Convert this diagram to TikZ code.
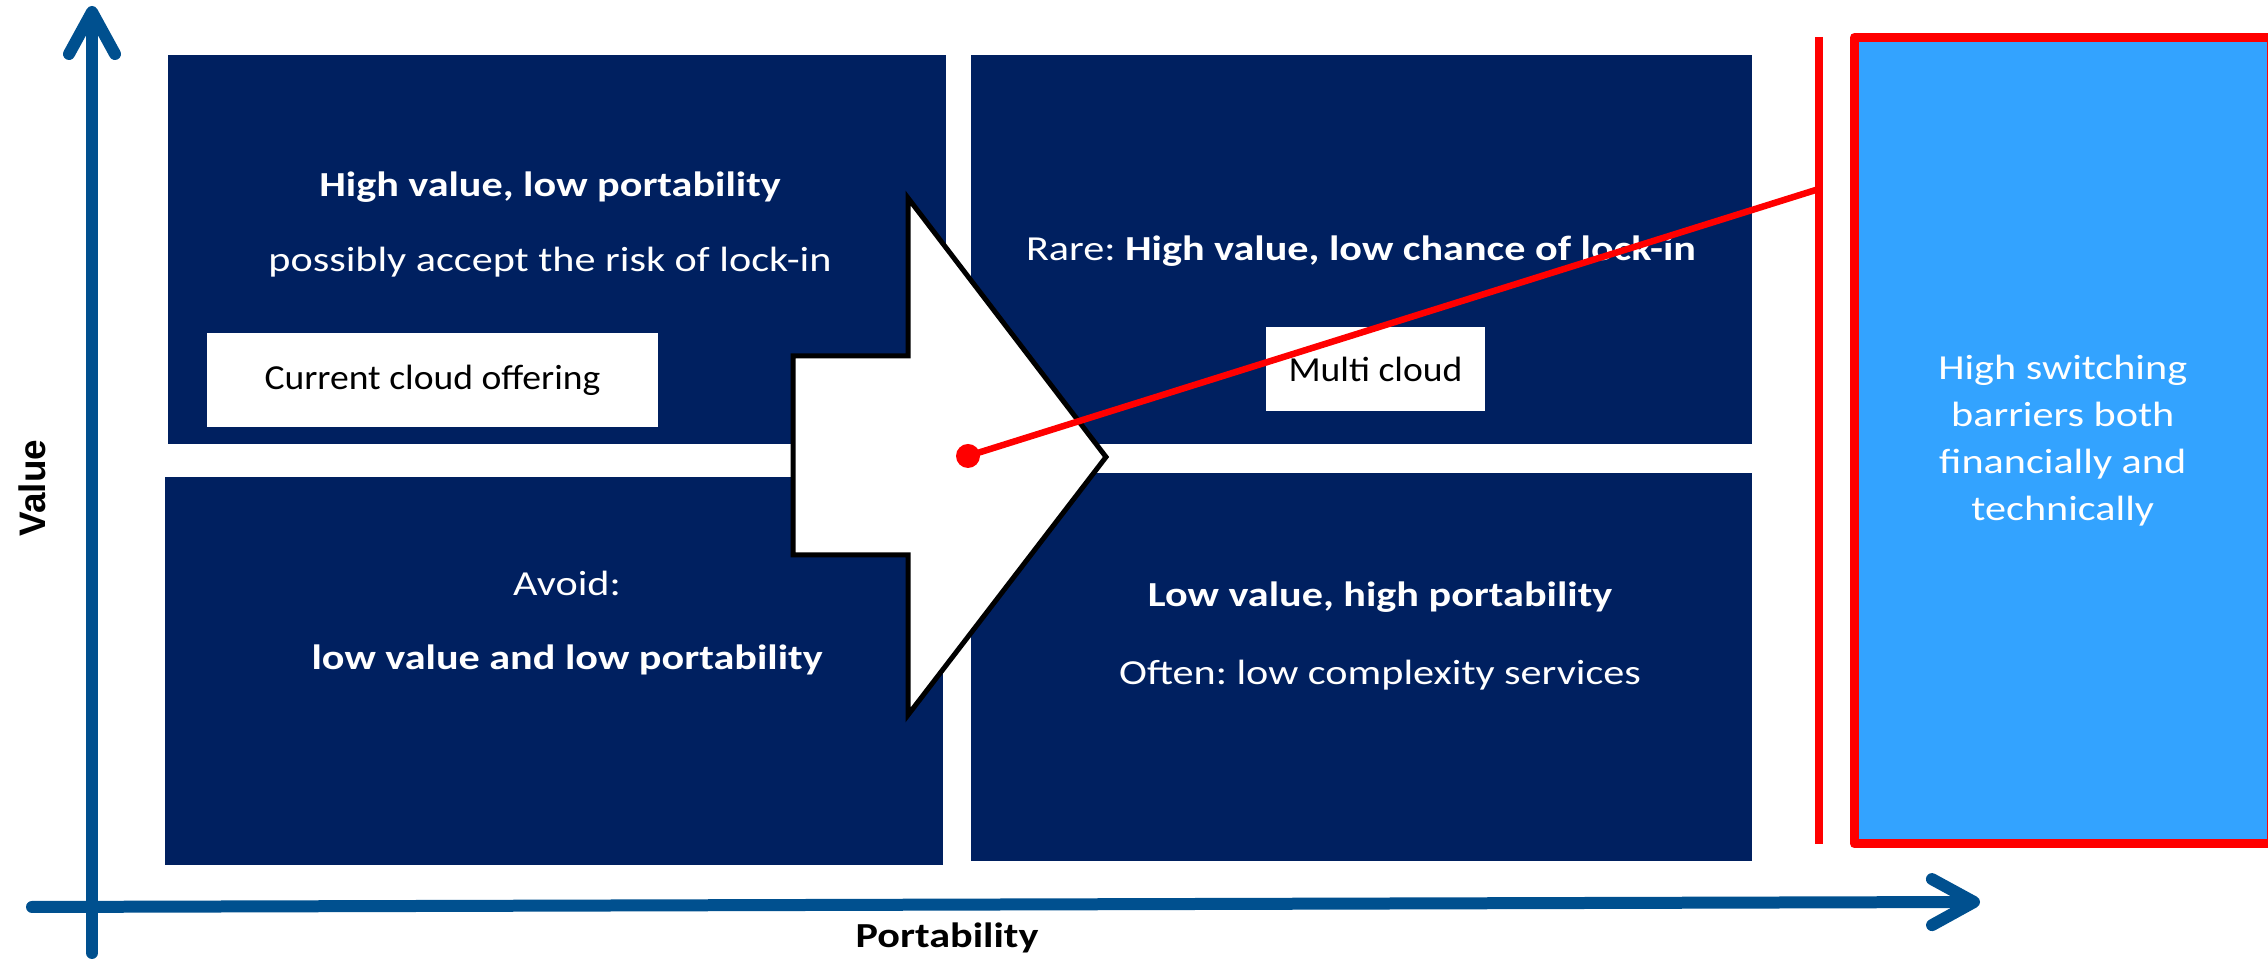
\documentclass[tikz,border=0pt]{standalone}
\usepackage{fontspec}
\setmainfont{Carlito}[FakeStretch=1.2]
\newfontfamily\tagfont{Carlito}[FakeStretch=1.07]
\newfontfamily\valuefont{Liberation Sans}
\usetikzlibrary{arrows.meta}
\definecolor{quadblue}{HTML}{002060}
\definecolor{axisblue}{HTML}{00508F}
\definecolor{barrierblue}{HTML}{33A3FF}
\frenchspacing

\begin{document}
\begin{tikzpicture}[
    quad/.style={fill=quadblue, inner sep=0pt},
    tag/.style={fill=white, inner sep=0pt, font=\tagfont\fontsize{10}{12.8}\selectfont},
    txt/.style={text=white, inner sep=0pt, font=\fontsize{10}{12.8}\selectfont},
    axis/.style={axisblue, line width=0.12cm, line cap=round,
      -{Straight Barb[length=0.42cm, width=0.46cm, round]}},
  ]
  \useasboundingbox (0, 0) rectangle (22.68, 9.62);

  % axes
  \coordinate (yFoot) at (0.92, 0.09);
  \coordinate (yTop) at (0.92, 9.56);
  \coordinate (xFoot) at (0.32, 0.55);
  \coordinate (xTop) at (19.80, 0.60);
  \draw[axis] (yFoot) -- (yTop);
  \draw[axis] (xFoot) -- (xTop);
  \node (value) [rotate=90, font=\valuefont\fontsize{10.5}{12}\selectfont\bfseries] at (0.32, 4.74) {Value};
  \node (portability) [font=\fontsize{10}{12}\selectfont\bfseries] at (9.47, 0.24) {Portability};

  % quadrants
  \node (tl) [quad, minimum width=7.78cm, minimum height=3.89cm] at (5.57, 7.125) {};
  \node (tr) [quad, minimum width=7.81cm, minimum height=3.89cm] at (13.615, 7.125) {};
  \node (bl) [quad, minimum width=7.78cm, minimum height=3.88cm] at (5.54, 2.91) {};
  \node (br) [quad, minimum width=7.81cm, minimum height=3.88cm] at (13.615, 2.95) {};

  \node (tlHead) [txt, font=\fontsize{10}{12.8}\selectfont\bfseries] at (5.50, 7.745) {High value, low portability};
  \node (tlSub) [txt] at (5.50, 6.995) {possibly accept the risk of lock-in};
  \node (current) [tag, minimum width=4.51cm, minimum height=0.94cm] at (4.325, 5.82) {Current cloud offering};

  \node (trHead) [txt] at (13.61, 7.105) {Rare: \textbf{High value, low chance of lock-in}};
  \node (multi) [tag, minimum width=2.19cm, minimum height=0.84cm] at (13.755, 5.93) {Multi cloud};

  \node (blHead) [txt] at (5.67, 3.79) {Avoid:};
  \node (blSub) [txt, font=\fontsize{10}{12.8}\selectfont\bfseries] at (5.67, 3.02) {low value and low portability};

  \node (brHead) [txt, font=\fontsize{10}{12.8}\selectfont\bfseries] at (13.80, 3.65) {Low value, high portability};
  \node (brSub) [txt] at (13.80, 2.87) {Often: low complexity services};

  % move arrow
  \draw[fill=white, line width=0.05cm] (7.93, 6.06) -- (9.08, 6.06) -- (9.08, 7.64) -- (11.06, 5.05)
    -- (9.08, 2.47) -- (9.08, 4.07) -- (7.93, 4.07) -- cycle;

  % switching barrier
  \node (barrier) [fill=barrierblue, draw=red, line width=0.09cm, line join=round,
    minimum width=4.165cm, minimum height=8.065cm, align=center, text=white,
    font=\fontsize{10}{13.3}\selectfont] at (20.6275, 5.2125)
    {High switching\\barriers both\\financially and\\technically};
  \coordinate (barTop) at (18.19, 9.25);
  \coordinate (barBot) at (18.19, 1.18);
  \draw[red, line width=0.08cm] (barTop) -- (barBot);

  \node (dot) [circle, fill=red, minimum size=0.24cm, inner sep=0pt] at (9.68, 5.06) {};
  \coordinate (hit) at (18.19, 7.73);
  \draw[red, line width=0.065cm] (dot.center) -- (hit);
\end{tikzpicture}
\end{document}
